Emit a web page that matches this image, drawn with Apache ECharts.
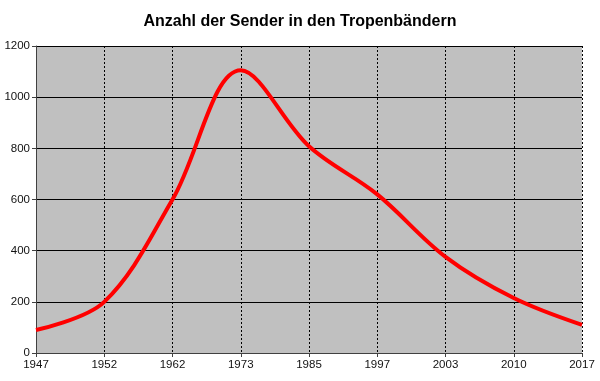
<!DOCTYPE html>
<html><head><meta charset="utf-8">
<script src="https://cdn.jsdelivr.net/npm/echarts@6/dist/echarts.min.js"></script>
<style>html,body{margin:0;padding:0;background:#fff}#c{width:600px;height:381px}</style>
</head><body><div id="c"></div>
<script>
var years = ['1947','1952','1962','1973','1985','1997','2003','2010','2017'];
var senders = [90, 200, 600, 1105, 808, 620, 376, 215, 110];
var yTicks = [0, 200, 400, 600, 800, 1000, 1200];

var chart = echarts.init(document.getElementById('c'));
chart.setOption({
  animation: false,
  title: {
    text: 'Anzahl der Sender in den Tropenbändern',
    left: 'center', top: 9,
    textStyle: {fontFamily: 'Liberation Sans, Arial', fontSize: 16, fontWeight: 'bold', color: '#000'}
  },
  grid: {left: 36, right: 18, top: 46, bottom: 28, show: true, backgroundColor: '#C0C0C0', borderWidth: 0},
  xAxis: {
    type: 'category', data: years, boundaryGap: false,
    axisLine: {lineStyle: {color: '#404040', width: 1}},
    axisTick: {show: true, length: 4, lineStyle: {color: '#404040'}},
    axisLabel: {color: '#111', fontFamily: 'Liberation Sans, Arial', fontSize: 11.5, margin: 6},
    splitLine: {show: true, lineStyle: {color: '#000', type: [2, 2], width: 1}}
  },
  yAxis: {
    type: 'value', min: yTicks[0], max: yTicks[yTicks.length - 1], interval: 200,
    axisLine: {show: true, lineStyle: {color: '#404040', width: 1}},
    axisTick: {show: true, length: 4, lineStyle: {color: '#404040'}},
    axisLabel: {color: '#111', fontFamily: 'Liberation Sans, Arial', fontSize: 11.5, margin: 6,
      formatter: function (v) { return String(v); }},
    splitLine: {show: true, lineStyle: {color: '#000', width: 1}}
  },
  series: [{
    type: 'line', data: senders, smooth: 0.35, symbol: 'none',
    lineStyle: {color: '#FF0000', width: 4}
  }]
});
</script></body></html>
